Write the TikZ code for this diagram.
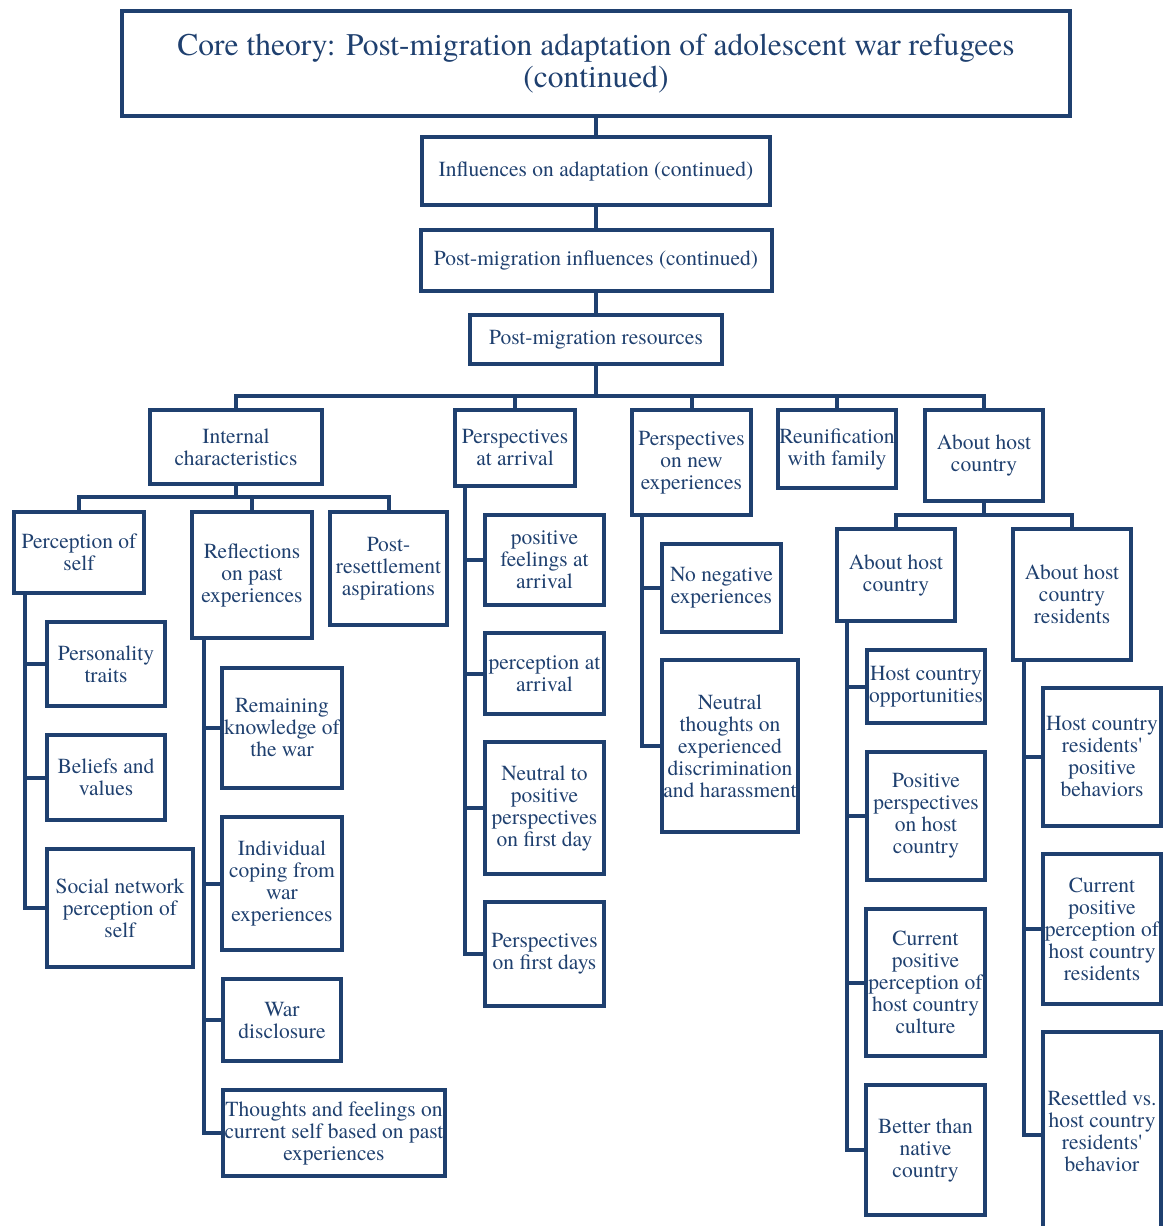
\documentclass[tikz,border=0pt]{standalone}
\usepackage{fontspec}
\setmainfont{texgyretermes-regular.otf}
\definecolor{navy}{HTML}{1F406F}
\newcommand{\sq}{\textquotesingle}
\begin{document}
\begin{tikzpicture}[x=1pt,y=-1pt,
  box/.style={draw=navy, line width=4pt, inner sep=0pt, outer sep=0pt,
    align=center, text=navy, font=\fontsize{21.5}{22}\selectfont},
  link/.style={draw=navy, line width=4pt}]
\useasboundingbox (0,0) rectangle (1165,1226);

% top chain
\node[box, minimum width=948, minimum height=105, font=\fontsize{31.5}{32}\selectfont] (title) at (596,63.5)
  {Core theory: Post-migration adaptation of adolescent war refugees\\(continued)};
\node[box, minimum width=348, minimum height=68] (infl) at (596,171) {Influences on adaptation (continued)};
\node[box, minimum width=351, minimum height=61] (pmi) at (596,260.5) {Post-migration influences (continued)};
\node[box, minimum width=252, minimum height=49] (res) at (596,339.5) {Post-migration resources};

% second level
\node[box, minimum width=172, minimum height=74] (ic) at (236,447) {Internal\\characteristics};
\node[box, minimum width=120, minimum height=76] (pa) at (515,448) {Perspectives\\at arrival};
\node[box, minimum width=119, minimum height=105] (pn) at (691.5,462.5) {Perspectives\\on new\\experiences};
\node[box, minimum width=118, minimum height=78] (rf) at (837,449) {Reunification\\with family};
\node[box, minimum width=118, minimum height=91] (ah) at (984,455.5) {About host\\country};

% internal characteristics
\node[box, minimum width=130, minimum height=81] (ps) at (79,552.5) {Perception of\\self};
\node[box, minimum width=120, minimum height=126] (rp) at (252,575) {Reflections\\on past\\experiences};
\node[box, minimum width=117, minimum height=113] (ra) at (388.5,568.5) {Post-\\resettlement\\aspirations};

\node[box, minimum width=118, minimum height=84] (pt) at (106,664) {Personality\\traits};
\node[box, minimum width=118, minimum height=85] (bv) at (106,777.5) {Beliefs and\\values};
\node[box, minimum width=146, minimum height=118] (sn) at (120,908) {Social network\\perception of\\self};

\node[box, minimum width=120, minimum height=120] (rk) at (282,728) {Remaining\\knowledge of\\the war};
\node[box, minimum width=120, minimum height=133] (co) at (282,883.5) {Individual\\coping from\\war\\experiences};
\node[box, minimum width=118, minimum height=82] (wd) at (282,1020) {War\\disclosure};
\node[box, minimum width=222, minimum height=86] (tf) at (334,1133) {Thoughts and feelings on\\current self based on past\\experiences};

% perspectives at arrival
\node[box, minimum width=119, minimum height=90] (pf) at (544.5,560) {positive\\feelings at\\arrival};
\node[box, minimum width=119, minimum height=81] (pr) at (544.5,673.5) {perception at\\arrival};
\node[box, minimum width=119, minimum height=132] (np) at (544.5,808) {Neutral to\\positive\\perspectives\\on first day};
\node[box, minimum width=119, minimum height=104] (fd) at (544.5,954) {Perspectives\\on first days};

% perspectives on new experiences
\node[box, minimum width=119, minimum height=88] (nn) at (721.5,588) {No negative\\experiences};
\node[box, minimum width=136, minimum height=172] (nt) at (730,746) {Neutral\\thoughts on\\experienced\\discrimination\\and harassment};

% about host country
\node[box, minimum width=118, minimum height=92] (ah2) at (896,575) {About host\\country};
\node[box, minimum width=118, minimum height=131] (ar) at (1072,594.5) {About host\\country\\residents};

\node[box, minimum width=118, minimum height=73] (ho) at (926,686.5) {Host country\\opportunities};
\node[box, minimum width=118, minimum height=128] (pp) at (926,816) {Positive\\perspectives\\on host\\country};
\node[box, minimum width=119, minimum height=147] (cc) at (925.5,982.5) {Current\\positive\\perception of\\host country\\culture};
\node[box, minimum width=119, minimum height=130] (bt) at (925.5,1150) {Better than\\native\\country};

\node[box, minimum width=118, minimum height=138] (rb) at (1102,757) {Host country\\residents\sq\\positive\\behaviors};
\node[box, minimum width=118, minimum height=150] (cr) at (1102,929) {Current\\positive\\perception of\\host country\\residents};
\node[box, minimum width=118, minimum height=198] (rv) at (1102,1131) {Resettled vs.\\host country\\residents\sq\\behavior};

% vertical chain
\draw[link] (title.south) -- (infl.north);
\draw[link] (infl.south) -- (pmi.north);
\draw[link] (pmi.south) -- (res.north);

% main bus
\coordinate (busA) at (596,396);
\draw[link] (res.south) -- (busA);
\draw[link] (ic.north) |- (busA) -| (ah.north);
\draw[link] (pa.north) -- (pa.north |- busA);
\draw[link] (pn.north) -- (pn.north |- busA);
\draw[link] (rf.north) -- (rf.north |- busA);

% internal characteristics bus
\coordinate (busB) at (236,497);
\draw[link] (ic.south) -- (busB);
\draw[link] (ps.north) |- (busB) -| (ra.north);
\draw[link] (rp.north) -- (rp.north |- busB);

% host country bus
\coordinate (busC) at (984,515);
\draw[link] (ah.south) -- (busC);
\draw[link] (ah2.north) |- (busC) -| (ar.north);

% side spines
\coordinate (spPS) at (25,595);
\draw[link] (ps.south -| spPS) |- (sn.west);
\draw[link] (pt.west) -- (pt.west -| spPS);
\draw[link] (bv.west) -- (bv.west -| spPS);

\coordinate (spRP) at (204,640);
\draw[link] (rp.south -| spRP) |- (tf.west);
\draw[link] (rk.west) -- (rk.west -| spRP);
\draw[link] (co.west) -- (co.west -| spRP);
\draw[link] (wd.west) -- (wd.west -| spRP);

\coordinate (spPA) at (465,488);
\draw[link] (pa.south -| spPA) |- (fd.west);
\draw[link] (pf.west) -- (pf.west -| spPA);
\draw[link] (pr.west) -- (pr.west -| spPA);
\draw[link] (np.west) -- (np.west -| spPA);

\coordinate (spPN) at (642,517);
\draw[link] (pn.south -| spPN) |- (nt.west);
\draw[link] (nn.west) -- (nn.west -| spPN);

\coordinate (spAH) at (847,623);
\draw[link] (ah2.south -| spAH) |- (bt.west);
\draw[link] (ho.west) -- (ho.west -| spAH);
\draw[link] (pp.west) -- (pp.west -| spAH);
\draw[link] (cc.west) -- (cc.west -| spAH);

\coordinate (spAR) at (1024,662);
\draw[link] (ar.south -| spAR) |- ([yshift=-4pt]rv.west);
\draw[link] (rb.west) -- (rb.west -| spAR);
\draw[link] (cr.west) -- (cr.west -| spAR);
\end{tikzpicture}
\end{document}
